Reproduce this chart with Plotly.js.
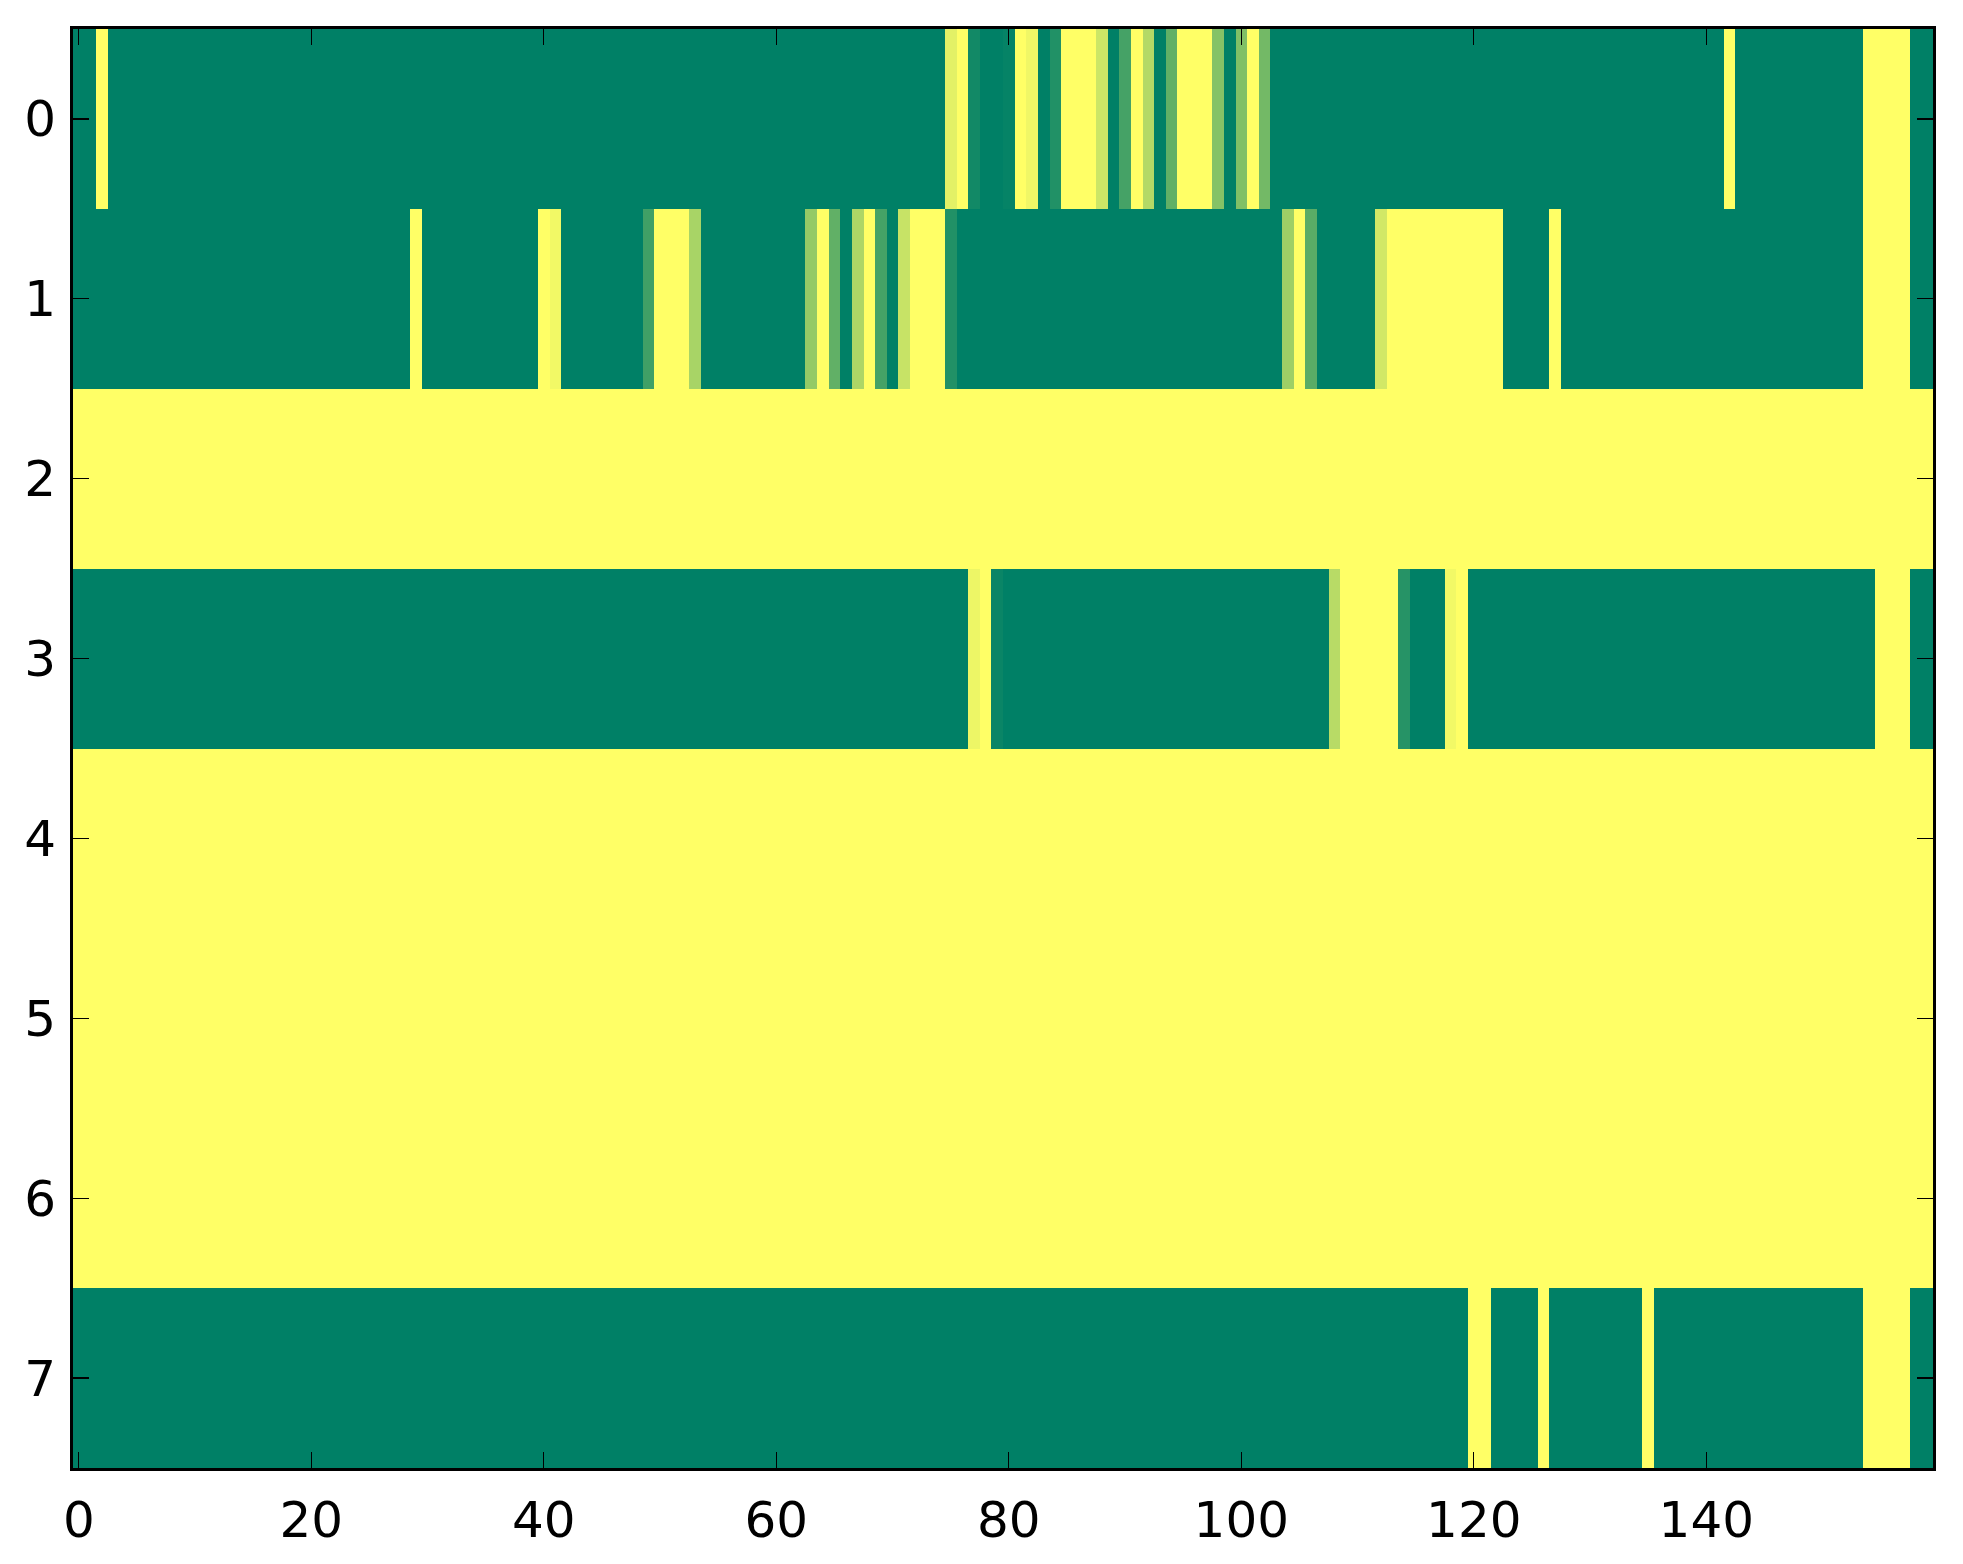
<!DOCTYPE html>
<html>
<head>
<meta charset="utf-8">
<script src="https://cdn.plot.ly/plotly-3.0.1.min.js"></script>
<style>
  html, body { margin: 0; padding: 0; background: #ffffff; }
  #chart { width: 1963px; height: 1564px; }
</style>
</head>
<body>
<div id="chart"></div>
<script>
// Row labels (y) and x tick labels
const rowLabels = [0, 1, 2, 3, 4, 5, 6, 7];
const xTickVals = [0, 20, 40, 60, 80, 100, 120, 140];

// Cell values per row, 160 columns each (0 = green, 1 = yellow)
const row0 = [
  0,0,1,0,0,0,0,0,0,0,
  0,0,0,0,0,0,0,0,0,0,
  0,0,0,0,0,0,0,0,0,0,
  0,0,0,0,0,0,0,0,0,0,
  0,0,0,0,0,0,0,0,0,0,
  0,0,0,0,0,0,0,0,0,0,
  0,0,0,0,0,0,0,0,0,0,
  0,0,0,0,0,0.89,1,0.07,0,0,
  0.02,1,0.94,0,0.13,1,1,1,0.8,0,
  0.27,1,0.7,0,0.38,1,1,1,0.52,0,
  0.5,1,0.45,0,0,0,0,0,0,0,
  0,0,0,0,0,0,0,0,0,0,
  0,0,0,0,0,0,0,0,0,0,
  0,0,0,0,0,0,0,0,0,0,
  0,0,1,0,0,0,0,0,0,0,
  0,0,0,0,1,1,1,1,0,0
];
const row1 = [
  0,0,0,0,0,0,0,0,0,0,
  0,0,0,0,0,0,0,0,0,0,
  0,0,0,0,0,0,0,0,0,1,
  0,0,0,0,0,0,0,0,0,0,
  1,0.95,0,0,0,0,0,0,0,0.25,
  1,1,1,0.66,0,0,0,0,0,0,
  0,0,0,0.58,1,0.38,0,0.68,1,0.27,
  0,0.78,1,1,1,0.13,0,0,0,0,
  0,0,0,0,0,0,0,0,0,0,
  0,0,0,0,0,0,0,0,0,0,
  0,0,0,0,0.62,1,0.35,0,0,0,
  0,0,0.82,1,1,1,1,1,1,1,
  1,1,1,0,0,0,0,1,0,0,
  0,0,0,0,0,0,0,0,0,0,
  0,0,0,0,0,0,0,0,0,0,
  0,0,0,0,1,1,1,1,0,0
];
const row2 = [
  1,1,1,1,1,1,1,1,1,1, 1,1,1,1,1,1,1,1,1,1,
  1,1,1,1,1,1,1,1,1,1, 1,1,1,1,1,1,1,1,1,1,
  1,1,1,1,1,1,1,1,1,1, 1,1,1,1,1,1,1,1,1,1,
  1,1,1,1,1,1,1,1,1,1, 1,1,1,1,1,1,1,1,1,1,
  1,1,1,1,1,1,1,1,1,1, 1,1,1,1,1,1,1,1,1,1,
  1,1,1,1,1,1,1,1,1,1, 1,1,1,1,1,1,1,1,1,1,
  1,1,1,1,1,1,1,1,1,1, 1,1,1,1,1,1,1,1,1,1,
  1,1,1,1,1,1,1,1,1,1, 1,1,1,1,1,1,1,1,1,1
];
const row3 = [
  0,0,0,0,0,0,0,0,0,0,
  0,0,0,0,0,0,0,0,0,0,
  0,0,0,0,0,0,0,0,0,0,
  0,0,0,0,0,0,0,0,0,0,
  0,0,0,0,0,0,0,0,0,0,
  0,0,0,0,0,0,0,0,0,0,
  0,0,0,0,0,0,0,0,0,0,
  0,0,0,0,0,0,0,0.93,1,0.04,
  0,0,0,0,0,0,0,0,0,0,
  0,0,0,0,0,0,0,0,0,0,
  0,0,0,0,0,0,0,0,0.72,1,
  1,1,1,1,0.15,0,0,0,0.95,1,
  0,0,0,0,0,0,0,0,0,0,
  0,0,0,0,0,0,0,0,0,0,
  0,0,0,0,0,0,0,0,0,0,
  0,0,0,0,0,1,1,1,0,0
];
const row4 = [
  1,1,1,1,1,1,1,1,1,1, 1,1,1,1,1,1,1,1,1,1,
  1,1,1,1,1,1,1,1,1,1, 1,1,1,1,1,1,1,1,1,1,
  1,1,1,1,1,1,1,1,1,1, 1,1,1,1,1,1,1,1,1,1,
  1,1,1,1,1,1,1,1,1,1, 1,1,1,1,1,1,1,1,1,1,
  1,1,1,1,1,1,1,1,1,1, 1,1,1,1,1,1,1,1,1,1,
  1,1,1,1,1,1,1,1,1,1, 1,1,1,1,1,1,1,1,1,1,
  1,1,1,1,1,1,1,1,1,1, 1,1,1,1,1,1,1,1,1,1,
  1,1,1,1,1,1,1,1,1,1, 1,1,1,1,1,1,1,1,1,1
];
const row5 = [
  1,1,1,1,1,1,1,1,1,1, 1,1,1,1,1,1,1,1,1,1,
  1,1,1,1,1,1,1,1,1,1, 1,1,1,1,1,1,1,1,1,1,
  1,1,1,1,1,1,1,1,1,1, 1,1,1,1,1,1,1,1,1,1,
  1,1,1,1,1,1,1,1,1,1, 1,1,1,1,1,1,1,1,1,1,
  1,1,1,1,1,1,1,1,1,1, 1,1,1,1,1,1,1,1,1,1,
  1,1,1,1,1,1,1,1,1,1, 1,1,1,1,1,1,1,1,1,1,
  1,1,1,1,1,1,1,1,1,1, 1,1,1,1,1,1,1,1,1,1,
  1,1,1,1,1,1,1,1,1,1, 1,1,1,1,1,1,1,1,1,1
];
const row6 = [
  1,1,1,1,1,1,1,1,1,1, 1,1,1,1,1,1,1,1,1,1,
  1,1,1,1,1,1,1,1,1,1, 1,1,1,1,1,1,1,1,1,1,
  1,1,1,1,1,1,1,1,1,1, 1,1,1,1,1,1,1,1,1,1,
  1,1,1,1,1,1,1,1,1,1, 1,1,1,1,1,1,1,1,1,1,
  1,1,1,1,1,1,1,1,1,1, 1,1,1,1,1,1,1,1,1,1,
  1,1,1,1,1,1,1,1,1,1, 1,1,1,1,1,1,1,1,1,1,
  1,1,1,1,1,1,1,1,1,1, 1,1,1,1,1,1,1,1,1,1,
  1,1,1,1,1,1,1,1,1,1, 1,1,1,1,1,1,1,1,1,1
];
const row7 = [
  0,0,0,0,0,0,0,0,0,0,
  0,0,0,0,0,0,0,0,0,0,
  0,0,0,0,0,0,0,0,0,0,
  0,0,0,0,0,0,0,0,0,0,
  0,0,0,0,0,0,0,0,0,0,
  0,0,0,0,0,0,0,0,0,0,
  0,0,0,0,0,0,0,0,0,0,
  0,0,0,0,0,0,0,0,0,0,
  0,0,0,0,0,0,0,0,0,0,
  0,0,0,0,0,0,0,0,0,0,
  0,0,0,0,0,0,0,0,0,0,
  0,0,0,0,0,0,0,0,0,0,
  1,1,0,0,0,0,1,0,0,0,
  0,0,0,0,0,1,0,0,0,0,
  0,0,0,0,0,0,0,0,0,0,
  0,0,0,0,1,1,1,1,0,0
];

const zRows = [row0, row1, row2, row3, row4, row5, row6, row7];

// matplotlib "summer" colormap: linear from green to yellow
const summer = [[0, 'rgb(0,128,102)'], [1, 'rgb(255,255,102)']];

const trace = {
  type: 'heatmap',
  z: zRows,
  y: rowLabels,
  zmin: 0,
  zmax: 1,
  colorscale: summer,
  showscale: false,
  zsmooth: false,
  hoverinfo: 'skip'
};

const tickFont = { family: 'DejaVu Sans, sans-serif', size: 50, color: '#000000' };

const commonAxis = {
  showgrid: false,
  zeroline: false,
  showline: true,
  linecolor: '#000000',
  linewidth: 3,
  mirror: 'ticks',
  ticks: 'inside',
  ticklen: 16,
  tickwidth: 1.3,
  tickcolor: '#000000',
  tickfont: tickFont
};

const layout = {
  width: 1963,
  height: 1564,
  margin: { l: 73, r: 30, t: 29, b: 96 },
  paper_bgcolor: '#ffffff',
  plot_bgcolor: '#ffffff',
  showlegend: false,
  xaxis: Object.assign({}, commonAxis, {
    range: [-0.5, 159.5],
    tickmode: 'array',
    tickvals: xTickVals,
    ticktext: xTickVals.map(String),
    ticklabelstandoff: 6
  }),
  yaxis: Object.assign({}, commonAxis, {
    range: [7.5, -0.5],
    tickmode: 'array',
    tickvals: rowLabels,
    ticktext: rowLabels.map(String),
    ticklabelstandoff: 4
  })
};

Plotly.newPlot('chart', [trace], layout, { displayModeBar: false, staticPlot: true });
</script>
</body>
</html>
